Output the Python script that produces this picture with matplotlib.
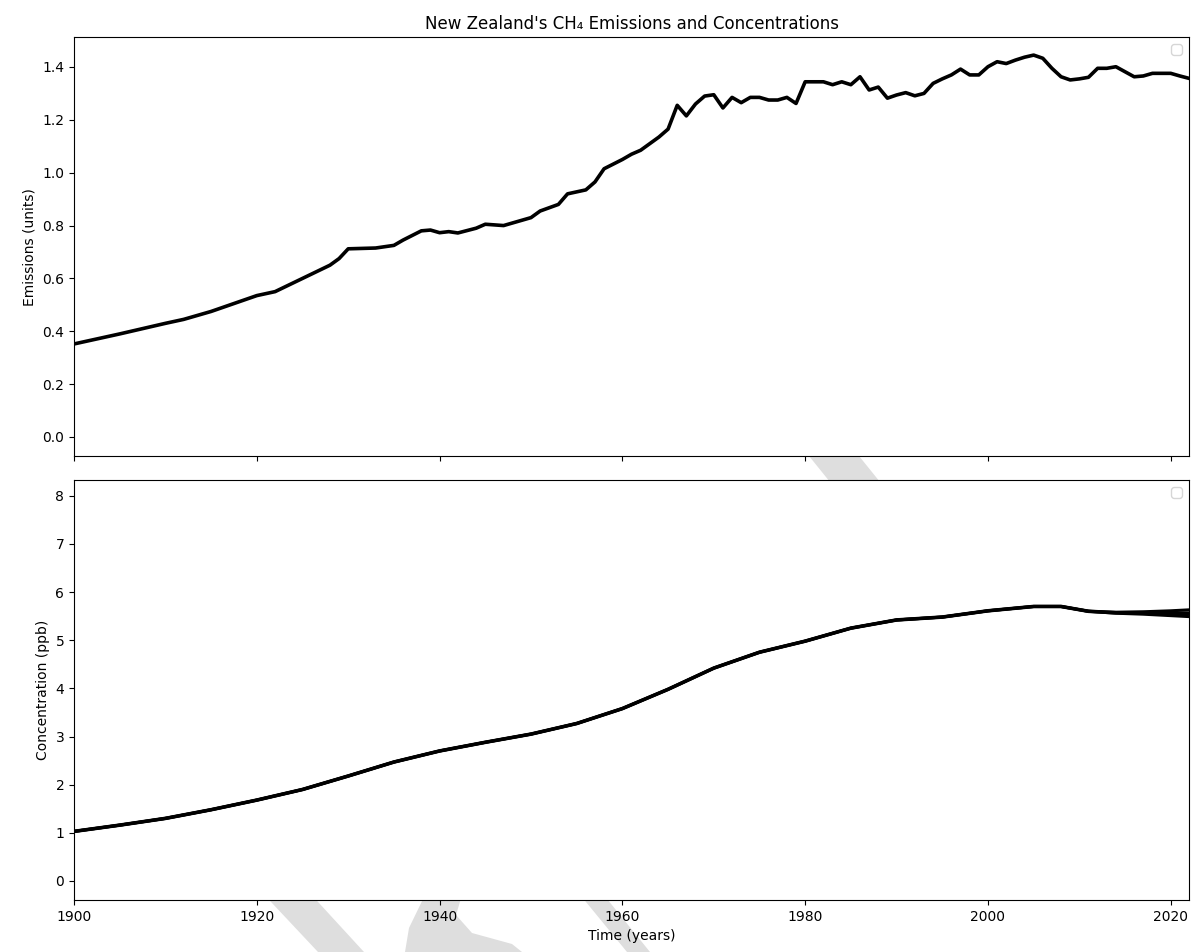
import numpy as np
import matplotlib
matplotlib.use('Agg')
import matplotlib.pyplot as plt
from matplotlib.patches import Polygon

# emissions
em_years = [1900, 1905, 1910, 1912, 1915, 1920, 1922, 1925, 1928, 1929,
            1930, 1933, 1935, 1936, 1938, 1939, 1940, 1941, 1942, 1944,
            1945, 1947, 1948, 1950, 1951, 1953, 1954, 1956, 1957, 1958,
            1960, 1961, 1962, 1963, 1964, 1965, 1966, 1967, 1968, 1969,
            1970, 1971, 1972, 1973, 1974, 1975, 1976, 1977, 1978, 1979,
            1980, 1981, 1982, 1983, 1984, 1985, 1986, 1987, 1988, 1989,
            1990, 1991, 1992, 1993, 1994, 1995, 1996, 1997, 1998, 1999,
            2000, 2001, 2002, 2003, 2004, 2005, 2006, 2007, 2008, 2009,
            2010, 2011, 2012, 2013, 2014, 2015, 2016, 2017, 2018, 2019,
            2020, 2021, 2022]
em_vals = [0.352, 0.39, 0.43, 0.445, 0.475, 0.535, 0.55, 0.60, 0.65, 0.675,
           0.712, 0.715, 0.725, 0.745, 0.78, 0.783, 0.773, 0.777, 0.772, 0.79,
           0.805, 0.80, 0.81, 0.83, 0.855, 0.88, 0.92, 0.935, 0.965, 1.015,
           1.05, 1.07, 1.085, 1.11, 1.135, 1.165, 1.255, 1.215, 1.26, 1.29,
           1.295, 1.245, 1.285, 1.265, 1.285, 1.285, 1.275, 1.275, 1.285, 1.262,
           1.344, 1.344, 1.344, 1.333, 1.344, 1.333, 1.363, 1.313, 1.324, 1.282,
           1.294, 1.303, 1.291, 1.30, 1.338, 1.355, 1.37, 1.392, 1.37, 1.37,
           1.401, 1.42, 1.413, 1.426, 1.437, 1.445, 1.433, 1.395, 1.363, 1.351,
           1.355, 1.361, 1.395, 1.395, 1.401, 1.382, 1.363, 1.366, 1.376, 1.376,
           1.376, 1.366, 1.357]

# concentration (central, low, high)
conc_years = [1900, 1905, 1910, 1915, 1920, 1925, 1930, 1935, 1940, 1945,
              1950, 1955, 1960, 1965, 1970, 1975, 1980, 1985, 1990, 1995,
              2000, 2005, 2008, 2011, 2014, 2017, 2020, 2022]
conc_mid = [1.03, 1.16, 1.30, 1.48, 1.68, 1.90, 2.18, 2.47, 2.70, 2.88,
            3.05, 3.27, 3.58, 3.98, 4.42, 4.75, 4.98, 5.25, 5.42, 5.48,
            5.61, 5.70, 5.70, 5.60, 5.57, 5.57, 5.56, 5.56]
conc_low = [1.03, 1.16, 1.30, 1.48, 1.68, 1.90, 2.18, 2.47, 2.70, 2.88,
            3.05, 3.27, 3.58, 3.98, 4.42, 4.75, 4.98, 5.25, 5.42, 5.48,
            5.61, 5.70, 5.70, 5.60, 5.56, 5.54, 5.51, 5.49]
conc_high = [1.03, 1.16, 1.30, 1.48, 1.68, 1.90, 2.18, 2.47, 2.70, 2.88,
             3.05, 3.27, 3.58, 3.98, 4.42, 4.75, 4.98, 5.25, 5.42, 5.48,
             5.61, 5.70, 5.70, 5.60, 5.58, 5.59, 5.61, 5.63]

fig = plt.figure(figsize=(11.98, 9.52), dpi=100)
ax1 = fig.add_axes([0.0618, 0.521, 0.9307, 0.44])
ax2 = fig.add_axes([0.0618, 0.0546, 0.9307, 0.4414], sharex=ax1)

# faint watermark behind the axes
W, H = 1198.0, 952.0
wm = [[(780, 420), (830, 420), (905, 513), (855, 513)],
      [(226, 854), (274, 854), (364, 952), (318, 952)],
      [(545, 852), (569, 852), (650, 952), (627, 952)],
      [(425, 895), (462, 895), (456, 915), (472, 933), (512, 944), (522, 952),
       (405, 952), (409, 928)]]
for pts in wm:
    fig.patches.append(Polygon([(x / W, 1 - y / H) for x, y in pts], closed=True,
                               transform=fig.transFigure, facecolor='#dedede',
                               edgecolor='none', zorder=-5))

ax1.plot(em_years, em_vals, color='black', lw=2.6)
ax1.set_ylim(-0.072, 1.513)
ax1.set_ylabel('Emissions (units)')
ax1.set_title("New Zealand's CH\u2084 Emissions and Concentrations")
ax1.legend(loc='upper right')
plt.setp(ax1.get_xticklabels(), visible=False)

ax2.plot(conc_years, conc_low, color='black', lw=2.2)
ax2.plot(conc_years, conc_high, color='black', lw=2.2)
ax2.plot(conc_years, conc_mid, color='black', lw=2.6)
ax2.set_ylim(-0.395, 8.33)
ax2.set_xlim(1900, 2022)
ax2.set_ylabel('Concentration (ppb)')
ax2.set_xlabel('Time (years)')
ax2.legend(loc='upper right')

plt.savefig('out.png', dpi=100)
